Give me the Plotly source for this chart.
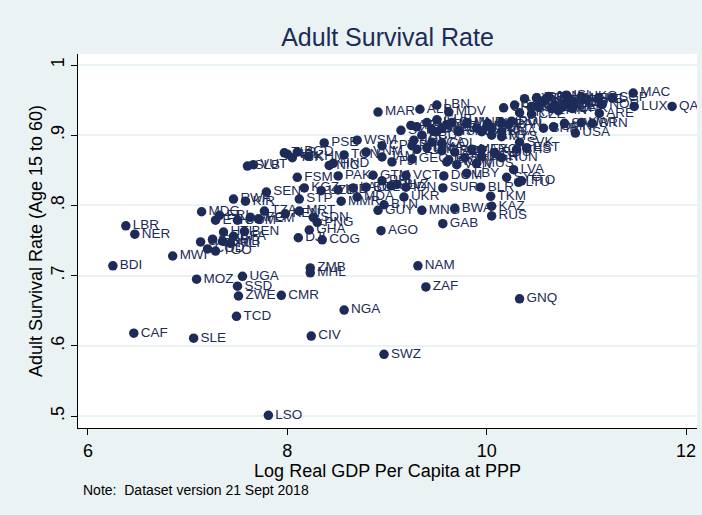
import plotly.graph_objects as go

# ISO3 country codes with log real GDP per capita (PPP) and adult survival (age 15 to 60)
country_codes = [
    "BDI", "LBR", "NER", "CAF", "MWI", "SLE", "MOZ", "MDG", "GIN", "COD",
    "TGO", "GMB", "MLI", "BFA", "HTI", "BEN", "ETH", "ERI", "COM", "AFG",
    "YEM", "RWA", "KIR", "TZA", "KEN", "UGA", "SSD", "ZWE", "TCD", "CMR",
    "LSO", "CIV", "NGA", "ZMB", "MHL", "SWZ", "NAM", "ZAF", "GNQ", "AGO",
    "GAB", "GHA", "DJI", "COG", "SDN", "PNG", "SEN", "STP", "MRT", "GNB",
    "SLB", "VUT", "TLS", "NPL", "BGD", "TJK", "KHM", "HND", "NIC", "PSE",
    "WSM", "TON", "VNM", "JAM", "MAR", "FSM", "KGZ", "UZB", "IND", "LAO",
    "PAK", "GTM", "BOL", "MMR", "MDA", "BTN", "GUY", "UKR", "SLV", "BLZ",
    "IDN", "PHL", "MNG", "BWA", "VCT", "DOM", "SUR", "KAZ", "TKM", "RUS",
    "BLR", "LVA", "LTU", "TTO", "MUS", "SVK", "EST", "HUN", "ARG", "BGR",
    "ROU", "BRA", "THA", "VEN", "MEX", "AZE", "GEO", "ARM", "FJI", "IRQ",
    "LBY", "EGY", "PRY", "COL", "ECU", "PER", "LKA", "JOR", "TUN", "DZA",
    "CHN", "IRN", "CUB", "BIH", "MKD", "SRB", "ALB", "LBN", "MDV", "MNE",
    "LCA", "GRD", "DMA", "CPV", "SYR", "TUR", "MYS", "BRB", "ATG", "URY",
    "PAN", "CHL", "CRI", "HRV", "POL", "KNA", "BHS", "SYC", "PRT", "GRC",
    "CZE", "SVN", "CYP", "MLT", "ISR", "ESP", "KOR", "ITA", "NZL", "JPN",
    "FRA", "GBR", "FIN", "BEL", "CAN", "AUS", "DEU", "AUT", "DNK", "SWE",
    "NLD", "ISL", "HKG", "CHE", "IRL", "NOR", "SGP", "ARE", "BRN", "KWT",
    "SAU", "BHR", "OMN", "USA", "MAC", "LUX", "QAT",
]

log_gdp_pc = [
    6.25, 6.38, 6.47, 6.46, 6.85, 7.06, 7.09, 7.14, 7.13, 7.20,
    7.28, 7.35, 7.43, 7.46, 7.36, 7.57, 7.28, 7.32, 7.50, 7.63,
    7.71, 7.46, 7.58, 7.77, 7.98, 7.55, 7.50, 7.51, 7.49, 7.94,
    7.81, 8.24, 8.57, 8.23, 8.23, 8.97, 9.31, 9.39, 10.33, 8.94,
    9.56, 8.22, 8.11, 8.35, 8.26, 8.30, 7.79, 8.12, 8.12, 7.25,
    7.60, 7.66, 7.97, 8.00, 8.10, 8.05, 8.21, 8.46, 8.42, 8.37,
    8.70, 8.57, 8.79, 8.95, 8.91, 8.10, 8.17, 8.34, 8.51, 8.66,
    8.51, 8.86, 8.79, 8.54, 8.70, 8.97, 8.91, 9.17, 9.04, 9.10,
    9.19, 8.95, 9.35, 9.68, 9.19, 9.57, 9.56, 10.05, 10.04, 10.05,
    9.94, 10.27, 10.32, 10.35, 9.90, 10.33, 10.40, 10.15, 9.95, 9.95,
    10.08, 9.62, 9.78, 9.70, 9.85, 9.68, 9.25, 9.24, 9.05, 9.60,
    9.80, 9.30, 9.25, 9.55, 9.35, 9.50, 9.45, 9.27, 9.30, 9.60,
    9.65, 9.90, 9.50, 9.40, 9.55, 9.72, 9.33, 9.50, 9.62, 9.80,
    9.45, 9.55, 9.40, 8.95, 9.14, 10.05, 10.15, 9.95, 10.05, 10.00,
    10.22, 10.01, 10.17, 10.15, 10.25, 10.15, 10.30, 10.20, 10.33, 10.28,
    10.45, 10.45, 10.38, 10.58, 10.50, 10.53, 10.56, 10.60, 10.52, 10.62,
    10.65, 10.68, 10.72, 10.76, 10.78, 10.82, 10.84, 10.85, 10.86, 10.83,
    10.88, 10.80, 10.95, 11.01, 11.12, 11.16, 11.26, 11.13, 11.06, 10.95,
    10.78, 10.57, 10.67, 10.89, 11.47, 11.48, 11.86,
]

adult_survival = [
    0.714, 0.771, 0.759, 0.618, 0.728, 0.611, 0.695, 0.791, 0.748, 0.738,
    0.735, 0.749, 0.746, 0.756, 0.762, 0.763, 0.779, 0.786, 0.779, 0.783,
    0.781, 0.809, 0.806, 0.792, 0.788, 0.699, 0.685, 0.671, 0.642, 0.672,
    0.501, 0.614, 0.651, 0.711, 0.704, 0.588, 0.714, 0.684, 0.667, 0.764,
    0.774, 0.765, 0.754, 0.751, 0.783, 0.776, 0.819, 0.809, 0.792, 0.752,
    0.856, 0.858, 0.875, 0.873, 0.876, 0.868, 0.870, 0.860, 0.857, 0.889,
    0.893, 0.872, 0.876, 0.869, 0.933, 0.840, 0.825, 0.821, 0.822, 0.825,
    0.842, 0.843, 0.826, 0.806, 0.812, 0.801, 0.793, 0.812, 0.828, 0.830,
    0.826, 0.835, 0.793, 0.796, 0.843, 0.842, 0.825, 0.799, 0.813, 0.785,
    0.826, 0.851, 0.833, 0.835, 0.860, 0.890, 0.882, 0.868, 0.880, 0.870,
    0.875, 0.865, 0.868, 0.858, 0.880, 0.876, 0.866, 0.914, 0.862, 0.862,
    0.846, 0.880, 0.885, 0.888, 0.900, 0.905, 0.908, 0.893, 0.912, 0.915,
    0.918, 0.910, 0.922, 0.918, 0.910, 0.905, 0.937, 0.943, 0.933, 0.918,
    0.890, 0.878, 0.882, 0.885, 0.907, 0.910, 0.898, 0.905, 0.900, 0.912,
    0.915, 0.917, 0.939, 0.918, 0.920, 0.905, 0.880, 0.840, 0.932, 0.943,
    0.930, 0.941, 0.952, 0.950, 0.953, 0.948, 0.946, 0.952, 0.940, 0.955,
    0.938, 0.943, 0.935, 0.940, 0.945, 0.952, 0.942, 0.945, 0.938, 0.952,
    0.947, 0.957, 0.955, 0.951, 0.952, 0.944, 0.953, 0.931, 0.917, 0.918,
    0.917, 0.910, 0.912, 0.903, 0.960, 0.941, 0.941,
]

y_ticks = [0.5, 0.6, 0.7, 0.8, 0.9, 1.0]
y_tick_text = [".5", ".6", ".7", ".8", ".9", "1"]
x_ticks = [6, 8, 10, 12]

NAVY = "#1c2b57"
BG = "#eaf2f3"
FONT = "Liberation Sans, Arial, sans-serif"

fig = go.Figure(
    go.Scatter(
        x=log_gdp_pc,
        y=adult_survival,
        text=country_codes,
        mode="markers+text",
        textposition="middle right",
        marker=dict(size=9.5, color=NAVY, line=dict(width=0)),
        textfont=dict(size=13.5, color=NAVY, family=FONT),
        cliponaxis=True,
        hoverinfo="x+y+text",
    )
)

fig.update_layout(
    width=702,
    height=515,
    margin=dict(l=78, r=5, t=54, b=87),
    paper_bgcolor=BG,
    plot_bgcolor="white",
    showlegend=False,
    font=dict(family=FONT, color="black"),
    title=dict(
        text="Adult Survival Rate",
        x=0.5,
        xref="paper",
        y=1 - 37 / 515,
        yref="container",
        xanchor="center",
        yanchor="middle",
        font=dict(size=25, color=NAVY, family=FONT),
    ),
    xaxis=dict(
        range=[5.9, 12.11],
        tickvals=x_ticks,
        ticks="outside",
        ticklen=6,
        tickcolor="black",
        showline=True,
        linecolor="black",
        linewidth=1,
        showgrid=False,
        zeroline=False,
        tickfont=dict(size=18, color="black"),
        title=dict(text="Log Real GDP Per Capita at PPP",
                   font=dict(size=18, color="black"), standoff=0),
    ),
    yaxis=dict(
        range=[0.483, 1.0157],
        tickvals=y_ticks,
        ticktext=y_tick_text,
        tickangle=-90,
        ticks="outside",
        ticklen=6,
        tickcolor="black",
        showline=True,
        linecolor="black",
        linewidth=1,
        showgrid=True,
        gridcolor=BG,
        gridwidth=1.5,
        zeroline=False,
        tickfont=dict(size=18, color="black"),
        title=dict(text="Adult Survival Rate (Age 15 to 60)",
                   font=dict(size=18, color="black"), standoff=0),
    ),
    annotations=[
        dict(
            text="Note:\u00a0 Dataset version 21 Sept 2018",
            xref="paper",
            yref="paper",
            x=3 / 619,
            y=-62 / 374,
            xanchor="left",
            yanchor="middle",
            showarrow=False,
            font=dict(size=14, color="black", family=FONT),
        )
    ],
)

fig.write_html("out.html")
